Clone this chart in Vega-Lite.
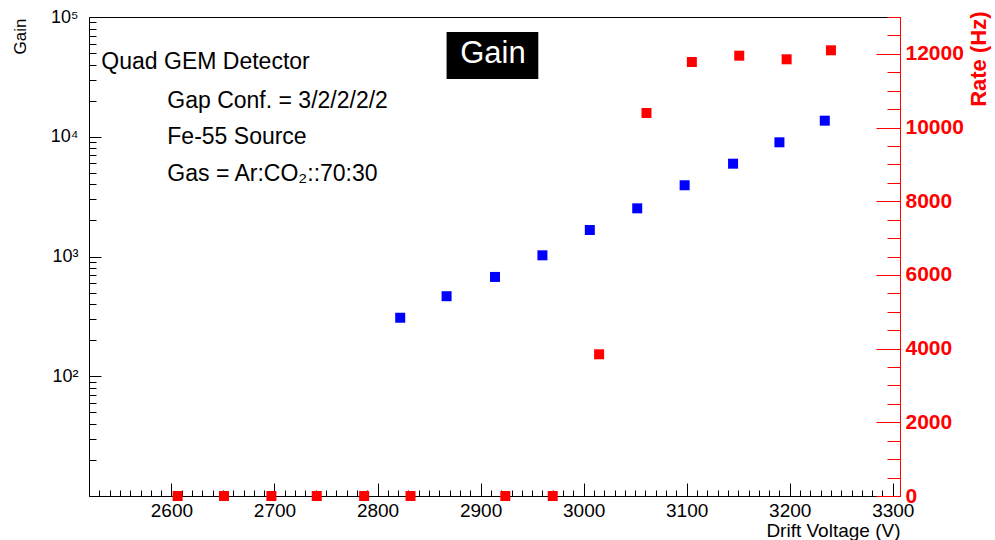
{
  "$schema": "https://vega.github.io/schema/vega-lite/v6.json",
  "width": 811,
  "height": 479,
  "autosize": {"type": "none"},
  "padding": {"left": 89, "top": 17, "right": 95, "bottom": 44},
  "background": "white",
  "config": {
    "font": "Liberation Sans",
    "view": {"stroke": "black", "strokeWidth": 1},
    "axis": {"grid": false, "labelFont": "Liberation Sans", "titleFont": "Liberation Sans", "labelOverlap": false}
  },
  "datasets": {
    "gain": [
      {"voltage": 2822, "gain": 308},
      {"voltage": 2867, "gain": 466},
      {"voltage": 2914, "gain": 675},
      {"voltage": 2960, "gain": 1023},
      {"voltage": 3006, "gain": 1665},
      {"voltage": 3052, "gain": 2525},
      {"voltage": 3098, "gain": 3935},
      {"voltage": 3145, "gain": 5957},
      {"voltage": 3190, "gain": 8989},
      {"voltage": 3234, "gain": 13620}
    ],
    "rate": [
      {"voltage": 2606, "rate": 0},
      {"voltage": 2651, "rate": 0},
      {"voltage": 2697, "rate": 0},
      {"voltage": 2741, "rate": 0},
      {"voltage": 2787, "rate": 0},
      {"voltage": 2832, "rate": 0},
      {"voltage": 2924, "rate": 0},
      {"voltage": 2970, "rate": 0},
      {"voltage": 3015, "rate": 3846},
      {"voltage": 3061, "rate": 10395},
      {"voltage": 3105, "rate": 11779},
      {"voltage": 3151, "rate": 11950},
      {"voltage": 3197, "rate": 11852},
      {"voltage": 3240, "rate": 12096}
    ]
  },
  "layer": [
    {
      "data": {"name": "gain"},
      "mark": {"type": "square", "size": 100, "color": "#0000ff", "opacity": 1},
      "encoding": {
        "x": {
          "field": "voltage",
          "type": "quantitative",
          "scale": {"domain": [2520, 3307], "nice": false, "zero": false},
          "axis": {
            "orient": "bottom",
            "title": "Drift Voltage (V)",
            "titleAnchor": "end",
            "titleFontSize": 19,
            "titleFontWeight": "normal",
            "titleColor": "black",
            "titleBaseline": "alphabetic",
            "titleY": 40,
            "values": [2530, 2540, 2550, 2560, 2570, 2580, 2590, 2600, 2610, 2620, 2630, 2640, 2650, 2660, 2670, 2680, 2690, 2700, 2710, 2720, 2730, 2740, 2750, 2760, 2770, 2780, 2790, 2800, 2810, 2820, 2830, 2840, 2850, 2860, 2870, 2880, 2890, 2900, 2910, 2920, 2930, 2940, 2950, 2960, 2970, 2980, 2990, 3000, 3010, 3020, 3030, 3040, 3050, 3060, 3070, 3080, 3090, 3100, 3110, 3120, 3130, 3140, 3150, 3160, 3170, 3180, 3190, 3200, 3210, 3220, 3230, 3240, 3250, 3260, 3270, 3280, 3290, 3300],
            "labelExpr": "datum.value % 100 === 0 ? '' + datum.value : ''",
            "labelFlush": false,
            "tickSize": {"condition": {"test": "datum.value % 100 === 0", "value": -13}, "value": -6},
            "labelPadding": 18,
            "labelFontSize": 19,
            "labelColor": "black",
            "domainColor": "black",
            "tickColor": "black"
          }
        },
        "y": {
          "field": "gain",
          "type": "quantitative",
          "scale": {"type": "log", "domain": [10, 100000], "nice": false},
          "axis": {
            "orient": "left",
            "title": "Gain",
            "titleAngle": 270,
            "titleAlign": "right",
            "titleBaseline": "bottom",
            "titleY": 1,
            "titleFontSize": 17,
            "titleFontWeight": "normal",
            "titleColor": "black",
            "titlePadding": 21,
            "values": [20, 30, 40, 50, 60, 70, 80, 90, 100, 200, 300, 400, 500, 600, 700, 800, 900, 1000, 2000, 3000, 4000, 5000, 6000, 7000, 8000, 9000, 10000, 20000, 30000, 40000, 50000, 60000, 70000, 80000, 90000, 100000],
            "labelExpr": "datum.value == 100 ? '10²' : datum.value == 1000 ? '10³' : datum.value == 10000 ? '10⁴' : datum.value == 100000 ? '10⁵' : ''",
            "tickSize": {"condition": {"test": "datum.value == 100 || datum.value == 1000 || datum.value == 10000 || datum.value == 100000", "value": -12}, "value": -7},
            "labelPadding": 23,
            "labelFontSize": 18,
            "labelColor": "black",
            "domainColor": "black",
            "tickColor": "black"
          }
        }
      }
    },
    {
      "data": {"name": "rate"},
      "mark": {"type": "square", "size": 100, "color": "#ff0000", "opacity": 1},
      "encoding": {
        "x": {"field": "voltage", "type": "quantitative", "axis": null},
        "y": {
          "field": "rate",
          "type": "quantitative",
          "scale": {"domain": [0, 13000], "nice": false},
          "axis": {
            "orient": "right",
            "title": "Rate (Hz)",
            "titleAnchor": "end",
            "titleAngle": 270,
            "titleBaseline": "top",
            "titleY": -6,
            "titleFontSize": 22,
            "titleFontWeight": "bold",
            "titleColor": "#ff0000",
            "titlePadding": 5,
            "values": [0, 500, 1000, 1500, 2000, 2500, 3000, 3500, 4000, 4500, 5000, 5500, 6000, 6500, 7000, 7500, 8000, 8500, 9000, 9500, 10000, 10500, 11000, 11500, 12000, 12500, 13000],
            "labelExpr": "datum.value % 2000 === 0 ? '' + datum.value : ''",
            "tickSize": {"condition": {"test": "datum.value % 2000 === 0", "value": -24}, "value": -13},
            "labelPadding": 29,
            "labelFontSize": 21,
            "labelFontWeight": "bold",
            "labelColor": "#ff0000",
            "domainColor": "#ff0000",
            "tickColor": "#ff0000"
          }
        }
      }
    },
    {
      "data": {"values": [{}]},
      "layer": [
        {
          "mark": {"type": "rect", "color": "black"},
          "encoding": {
            "x": {"datum": 2867, "type": "quantitative", "axis": null},
            "x2": {"datum": 2956},
            "y": {"datum": 75000, "type": "quantitative", "scale": {"type": "log", "domain": [10, 100000], "nice": false}, "axis": null},
            "y2": {"datum": 30300}
          }
        },
        {
          "mark": {"type": "text", "text": "Gain", "color": "white", "fontSize": 31, "align": "center", "baseline": "alphabetic"},
          "encoding": {
            "x": {"datum": 2912, "type": "quantitative", "axis": null},
            "y": {"datum": 41000, "type": "quantitative", "axis": null}
          }
        },
        {
          "mark": {"type": "text", "text": "Quad GEM Detector", "color": "black", "fontSize": 23, "align": "left", "baseline": "alphabetic"},
          "encoding": {
            "x": {"datum": 2532, "type": "quantitative", "axis": null},
            "y": {"datum": 37000, "type": "quantitative", "axis": null}
          }
        },
        {
          "mark": {"type": "text", "text": "Gap Conf. = 3/2/2/2/2", "color": "black", "fontSize": 23, "align": "left", "baseline": "alphabetic"},
          "encoding": {
            "x": {"datum": 2596, "type": "quantitative", "axis": null},
            "y": {"datum": 17400, "type": "quantitative", "axis": null}
          }
        },
        {
          "mark": {"type": "text", "text": "Fe-55 Source", "color": "black", "fontSize": 23, "align": "left", "baseline": "alphabetic"},
          "encoding": {
            "x": {"datum": 2596, "type": "quantitative", "axis": null},
            "y": {"datum": 8650, "type": "quantitative", "axis": null}
          }
        },
        {
          "mark": {"type": "text", "text": "Gas = Ar:CO₂::70:30", "color": "black", "fontSize": 23, "align": "left", "baseline": "alphabetic"},
          "encoding": {
            "x": {"datum": 2596, "type": "quantitative", "axis": null},
            "y": {"datum": 4250, "type": "quantitative", "axis": null}
          }
        }
      ]
    }
  ],
  "resolve": {"scale": {"y": "independent"}, "axis": {"x": "independent"}}
}
